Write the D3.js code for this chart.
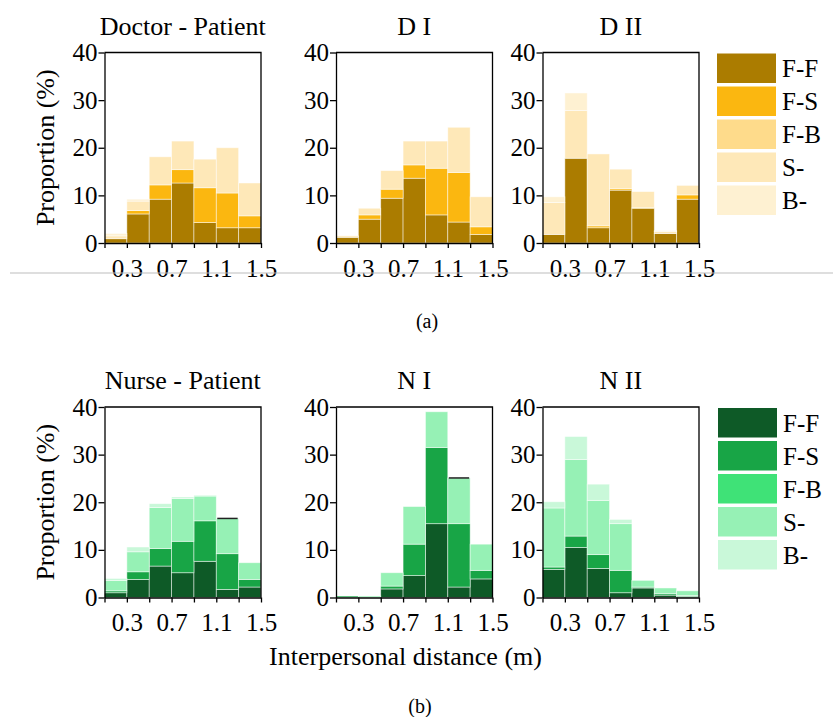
<!DOCTYPE html>
<html>
<head>
<meta charset="utf-8">
<script src="https://cdn.jsdelivr.net/npm/d3@7"></script>
<style>
  body { margin: 0; background: #fff; }
  text { font-family: "Liberation Serif", "Times New Roman", serif; fill: #000; }
</style>
</head>
<body>
<div id="chart"></div>
<script>
// categories and bins
const categories = ['F-F', 'F-S', 'F-B', 'S-', 'B-'];
const binEdges = [0.1, 0.3, 0.5, 0.7, 0.9, 1.1, 1.3, 1.5];
const xTickLabels = [0.3, 0.7, 1.1, 1.5];
const yTicks = [0, 10, 20, 30, 40];

// proportion (%) per bin, rows = categories in order above
const doctorPatient = [
    [0.9, 6.1, 9.2, 12.6, 4.3, 3.2, 3.2],
    [0, 0.7, 3.0, 2.8, 7.3, 7.3, 2.5],
    [0, 0, 0, 0, 0, 0, 0],
    [0.6, 2.0, 5.9, 6.0, 6.0, 9.5, 6.9],
    [0.5, 0.4, 0, 0, 0, 0, 0]
];
const doctorI = [
    [1.2, 5.0, 9.4, 13.6, 5.9, 4.4, 1.8],
    [0, 0.9, 1.9, 2.8, 9.8, 10.4, 1.6],
    [0, 0, 0, 0, 0, 0, 0],
    [0.3, 1.4, 3.9, 5.0, 5.7, 9.5, 6.3],
    [0, 0, 0, 0, 0, 0, 0]
];
const doctorII = [
    [1.8, 17.8, 3.2, 11.1, 7.3, 2.0, 9.2],
    [0, 0, 0.4, 0.3, 0.1, 0, 0.9],
    [0, 0, 0, 0, 0, 0, 0],
    [6.7, 10.0, 15.1, 4.1, 3.4, 0.4, 2.0],
    [1.2, 3.7, 0, 0, 0, 0.2, 0]
];
const nursePatient = [
    [1.0, 3.8, 6.6, 5.2, 7.6, 1.7, 2.2],
    [0.4, 1.6, 3.7, 6.6, 8.5, 7.5, 1.6],
    [0, 0, 0, 0, 0, 0, 0],
    [2.2, 4.2, 8.6, 9.0, 5.2, 7.4, 3.5],
    [0.4, 1.0, 0.8, 0.3, 0.2, 0, 0]
];
const nurseI = [
    [0, 0, 1.8, 4.6, 15.5, 2.2, 3.9],
    [0.3, 0, 0.6, 6.6, 16.0, 13.3, 1.8],
    [0, 0, 0, 0, 0, 0, 0],
    [0, 0.3, 2.8, 7.9, 7.5, 9.6, 5.5],
    [0, 0, 0, 0, 0, 0, 0]
];
const nurseII = [
    [5.9, 10.5, 6.1, 1.0, 2.0, 0.5, 0.2],
    [0.5, 2.4, 2.9, 4.7, 0.2, 0.3, 0.2],
    [0, 0, 0, 0, 0, 0, 0],
    [12.4, 16.1, 11.4, 9.8, 1.4, 1.2, 1.0],
    [1.3, 4.8, 3.4, 0.9, 0, 0, 0]
];
// bins that carry a dark line on top of the stack
const nursePatientCaps = [5];
const nurseICaps = [5];

const brownColors = ['#ab7c00', '#fbb710', '#fedb8b', '#fee8b8', '#fef1d2'];
const greenColors = ['#0e5a27', '#18a546', '#3fe277', '#96f1b5', '#c9f8d9'];

const width = 833, height = 717;
const panelX = [104.5, 336, 542.5];
const panelW = 156.5;

const rows = [
    { top: 52.5, bottom: 243, colors: brownColors, legendX: 717, legendY: 53.5, titleY: 35,
      panels: [
          { title: 'Doctor - Patient', data: doctorPatient, caps: [] },
          { title: 'D I', data: doctorI, caps: [] },
          { title: 'D II', data: doctorII, caps: [] }
      ] },
    { top: 407, bottom: 597.5, colors: greenColors, legendX: 718, legendY: 408, titleY: 389,
      panels: [
          { title: 'Nurse - Patient', data: nursePatient, caps: nursePatientCaps },
          { title: 'N I', data: nurseI, caps: nurseICaps },
          { title: 'N II', data: nurseII, caps: [] }
      ] }
];

const svg = d3.select('#chart').append('svg')
    .attr('width', width)
    .attr('height', height);

svg.append('rect').attr('width', width).attr('height', height).attr('fill', '#fff');

rows.forEach((row) => {
    const y = d3.scaleLinear().domain([0, 40]).range([row.bottom, row.top]);

    row.panels.forEach((p, pi) => {
        const x = d3.scaleLinear().domain([0.1, 1.5]).range([panelX[pi], panelX[pi] + panelW]);
        const g = svg.append('g');

        // table for the stack
        const table = binEdges.slice(0, -1).map((b, i) => {
            const r = { x0: b, x1: binEdges[i + 1] };
            categories.forEach((c, k) => { r[c] = p.data[k][i]; });
            return r;
        });
        const series = d3.stack().keys(categories)(table);

        g.selectAll('g.layer')
            .data(series)
            .join('g')
            .attr('class', 'layer')
            .attr('fill', (d, i) => row.colors[i])
            .selectAll('rect')
            .data((d) => d.filter((s) => s[1] - s[0] > 0))
            .join('rect')
            .attr('x', (d) => x(d.data.x0))
            .attr('width', (d) => x(d.data.x1) - x(d.data.x0))
            .attr('y', (d) => y(d[1]))
            .attr('height', (d) => y(d[0]) - y(d[1]))
            .attr('stroke', '#fff')
            .attr('stroke-opacity', 0.6)
            .attr('stroke-width', 0.8);

        // dark cap lines
        const top = series[series.length - 1];
        g.selectAll('line.cap')
            .data(p.caps)
            .join('line')
            .attr('class', 'cap')
            .attr('x1', (i) => x(binEdges[i]) + 1)
            .attr('x2', (i) => x(binEdges[i + 1]) - 1)
            .attr('y1', (i) => y(top[i][1]))
            .attr('y2', (i) => y(top[i][1]))
            .attr('stroke', '#222')
            .attr('stroke-width', 1.5);

        // axes
        const xAxis = d3.axisBottom(x)
            .tickValues(binEdges)
            .tickSize(5)
            .tickSizeOuter(0)
            .tickPadding(11)
            .tickFormat((v) => (xTickLabels.includes(v) ? d3.format('.1f')(v) : ''));
        const gx = g.append('g')
            .attr('transform', `translate(0,${row.bottom})`)
            .call(xAxis);

        const yAxis = d3.axisLeft(y)
            .tickValues(yTicks)
            .tickSize(6)
            .tickSizeOuter(0)
            .tickPadding(1);
        const gy = g.append('g')
            .attr('transform', `translate(${panelX[pi]},0)`)
            .call(yAxis);

        [gx, gy].forEach((a) => {
            a.selectAll('path, line').attr('stroke', '#000').attr('stroke-width', 1.3);
            a.selectAll('text')
                .attr('font-family', '"Liberation Serif", serif')
                .attr('font-size', 25)
                .attr('fill', '#000');
        });

        // frame top and right
        g.append('path')
            .attr('d', `M${panelX[pi]},${row.top}H${panelX[pi] + panelW}V${row.bottom}`)
            .attr('fill', 'none')
            .attr('stroke', '#000')
            .attr('stroke-width', 1.3);

        // title
        g.append('text')
            .attr('x', panelX[pi] + panelW / 2)
            .attr('y', row.titleY)
            .attr('text-anchor', 'middle')
            .attr('font-size', 26)
            .text(p.title);
    });

    // y label
    svg.append('text')
        .attr('transform', `translate(54,${(row.top + row.bottom) / 2}) rotate(-90)`)
        .attr('text-anchor', 'middle')
        .attr('font-size', 26)
        .text('Proportion (%)');

    // legend
    const lg = svg.append('g').attr('transform', `translate(${row.legendX},${row.legendY})`);
    const item = lg.selectAll('g').data(categories).join('g')
        .attr('transform', (d, i) => `translate(0,${i * 33})`);
    item.append('rect')
        .attr('width', 59)
        .attr('height', 29.5)
        .attr('fill', (d, i) => row.colors[i]);
    item.append('text')
        .attr('x', 65)
        .attr('y', 15)
        .attr('dy', '0.35em')
        .attr('font-size', 25)
        .text((d) => d);
});

// separator line
svg.append('line')
    .attr('x1', 10).attr('x2', width)
    .attr('y1', 273).attr('y2', 273)
    .attr('stroke', '#bdbdbd')
    .attr('stroke-width', 1);

svg.append('text')
    .attr('x', 427).attr('y', 328)
    .attr('text-anchor', 'middle')
    .attr('font-size', 20)
    .text('(a)');

svg.append('text')
    .attr('x', 405.5).attr('y', 665)
    .attr('text-anchor', 'middle')
    .attr('font-size', 26)
    .text('Interpersonal distance (m)');

svg.append('text')
    .attr('x', 420).attr('y', 713)
    .attr('text-anchor', 'middle')
    .attr('font-size', 20)
    .text('(b)');
</script>
</body>
</html>
